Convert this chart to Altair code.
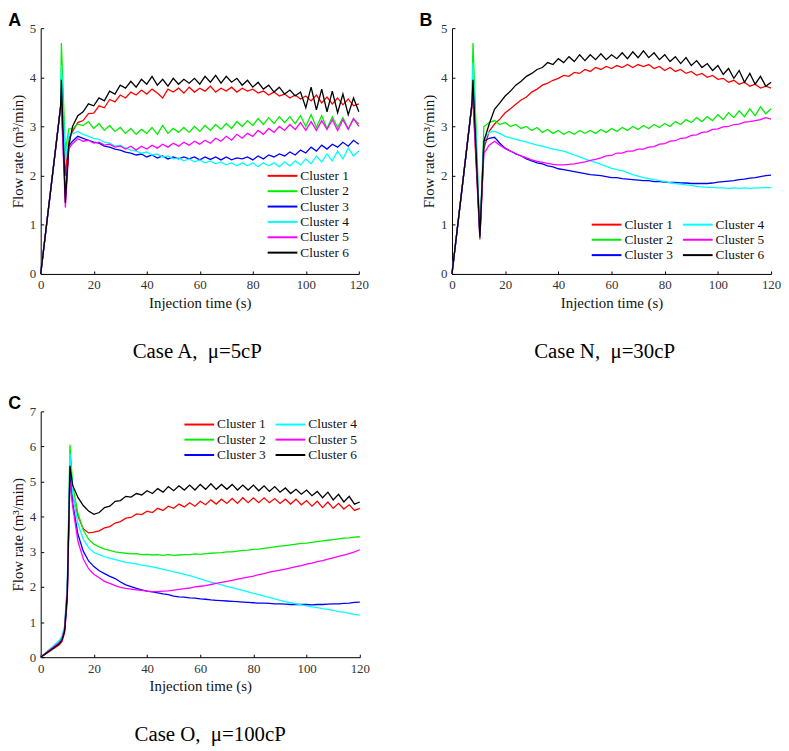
import altair as alt
import pandas as pd

CLUSTERS = ["Cluster 1", "Cluster 2", "Cluster 3", "Cluster 4", "Cluster 5", "Cluster 6"]
COLORS = ["#ff0000", "#00ee00", "#0000ff", "#00ffff", "#ff00ff", "#000000"]
XTICKS = [0, 20, 40, 60, 80, 100, 120]
YTICKS_AB = [0, 1, 2, 3, 4, 5]
YTICKS_C = [0, 1, 2, 3, 4, 5, 6, 7]
GRID = list(range(12, 121, 2))  # sample times 12, 14, ..., 120 s

# ---------------- Case A (mu = 5 cP) ----------------
TIMES_A = [0, 7.5, 7.8, 9.3, 10.6] + GRID
A1 = [0, 3.4, 3.6, 2.0, 2.75,
      2.90, 3.08, 3.12, 3.26, 3.27, 3.42, 3.38, 3.55, 3.50, 3.64, 3.58,
      3.70, 3.64, 3.74, 3.66, 3.76, 3.68, 3.58, 3.76, 3.70, 3.78, 3.68,
      3.80, 3.70, 3.78, 3.72, 3.82, 3.70, 3.78, 3.72, 3.80, 3.70, 3.78,
      3.72, 3.76, 3.68, 3.72, 3.64, 3.70, 3.62, 3.66, 3.58, 3.64, 3.56,
      3.62, 3.52, 3.64, 3.48, 3.60, 3.46, 3.58, 3.44, 3.56, 3.42, 3.46]
A2 = [0, 3.4, 4.7, 2.5, 2.95,
      2.95, 3.05, 3.02, 3.10, 2.96, 3.06, 2.92, 3.02, 2.90, 2.98, 2.86,
      2.96, 2.84, 2.94, 2.86, 2.98, 2.84, 3.02, 2.86, 2.96, 2.88, 2.98,
      2.88, 3.00, 2.90, 3.02, 2.92, 3.04, 2.94, 3.06, 2.96, 3.10, 3.00,
      3.12, 3.02, 3.16, 3.04, 3.18, 3.06, 3.20, 3.08, 3.20, 3.06, 3.22,
      3.00, 3.24, 2.98, 3.22, 2.96, 3.20, 2.98, 3.18, 2.96, 3.16, 3.05]
A3 = [0, 3.4, 3.5, 1.55, 2.6,
      2.70, 2.80, 2.76, 2.72, 2.68, 2.66, 2.60, 2.58, 2.54, 2.52, 2.48,
      2.46, 2.42, 2.44, 2.38, 2.42, 2.36, 2.40, 2.34, 2.38, 2.34, 2.38,
      2.34, 2.38, 2.32, 2.38, 2.33, 2.38, 2.32, 2.38, 2.32, 2.36, 2.34,
      2.38, 2.32, 2.40, 2.34, 2.42, 2.38, 2.44, 2.40, 2.48, 2.42, 2.52,
      2.46, 2.58, 2.50, 2.62, 2.54, 2.64, 2.58, 2.68, 2.60, 2.72, 2.64]
A4 = [0, 3.4, 4.25, 2.3, 2.85,
      2.85, 2.90, 2.84, 2.80, 2.76, 2.74, 2.68, 2.66, 2.60, 2.62, 2.56,
      2.52, 2.50, 2.46, 2.48, 2.42, 2.44, 2.38, 2.40, 2.34, 2.36, 2.30,
      2.34, 2.28, 2.32, 2.26, 2.30, 2.24, 2.28, 2.22, 2.26, 2.20, 2.26,
      2.20, 2.26, 2.18, 2.26, 2.20, 2.26, 2.18, 2.28, 2.20, 2.30, 2.22,
      2.34, 2.24, 2.40, 2.28, 2.44, 2.30, 2.50, 2.34, 2.56, 2.40, 2.50]
A5 = [0, 3.4, 3.4, 1.35, 2.55,
      2.65, 2.75, 2.70, 2.72, 2.66, 2.68, 2.62, 2.64, 2.58, 2.60, 2.54,
      2.60, 2.52, 2.60, 2.54, 2.62, 2.56, 2.64, 2.58, 2.66, 2.60, 2.68,
      2.62, 2.70, 2.64, 2.72, 2.66, 2.76, 2.70, 2.80, 2.72, 2.84, 2.76,
      2.86, 2.80, 2.92, 2.84, 2.96, 2.88, 3.00, 2.92, 3.04, 2.94, 3.08,
      2.92, 3.10, 2.92, 3.12, 2.94, 3.14, 2.92, 3.14, 2.94, 3.16, 3.00]
A6 = [0, 3.4, 3.95, 1.45, 2.6,
      3.00, 3.22, 3.30, 3.46, 3.42, 3.58, 3.52, 3.72, 3.66, 3.84, 3.78,
      3.92, 3.80, 3.96, 3.86, 4.02, 3.84, 3.96, 3.82, 3.98, 3.86, 3.96,
      3.88, 3.98, 3.86, 4.02, 3.90, 4.04, 3.88, 4.02, 3.90, 3.98, 3.84,
      3.94, 3.80, 3.90, 3.76, 3.84, 3.70, 3.80, 3.66, 3.74, 3.62, 3.70,
      3.38, 3.80, 3.34, 3.76, 3.30, 3.72, 3.28, 3.66, 3.24, 3.58, 3.30]

# ---------------- Case N (mu = 30 cP) ----------------
TIMES_B = [0, 7.5, 7.9, 10.5] + GRID
B1 = [0, 3.45, 3.5, 0.70,
      2.55, 2.90, 3.05, 3.15, 3.28, 3.36, 3.45, 3.54, 3.60, 3.70, 3.76,
      3.84, 3.88, 3.94, 3.98, 4.04, 4.02, 4.10, 4.08, 4.16, 4.12, 4.20,
      4.16, 4.22, 4.18, 4.24, 4.20, 4.26, 4.20, 4.26, 4.22, 4.26, 4.18,
      4.22, 4.14, 4.20, 4.12, 4.16, 4.08, 4.12, 4.04, 4.08, 4.00, 4.04,
      3.96, 3.98, 3.90, 3.94, 3.86, 3.90, 3.82, 3.86, 3.78, 3.82, 3.78]
B2 = [0, 3.45, 4.7, 0.80,
      3.00, 3.08, 3.12, 3.04, 3.08, 3.00, 3.04, 2.96, 3.00, 2.92, 2.98,
      2.88, 2.94, 2.86, 2.92, 2.84, 2.90, 2.84, 2.92, 2.86, 2.92, 2.86,
      2.94, 2.88, 2.96, 2.90, 2.98, 2.92, 3.00, 2.94, 3.02, 2.96, 3.04,
      2.98, 3.06, 3.00, 3.10, 3.04, 3.14, 3.08, 3.18, 3.10, 3.20, 3.12,
      3.24, 3.14, 3.28, 3.18, 3.32, 3.20, 3.36, 3.22, 3.40, 3.26, 3.36]
B3 = [0, 3.45, 3.8, 0.75,
      2.70, 2.76, 2.78, 2.66, 2.56, 2.50, 2.44, 2.40, 2.34, 2.30, 2.26,
      2.24, 2.20, 2.18, 2.14, 2.12, 2.10, 2.08, 2.06, 2.04, 2.02, 2.01,
      2.00, 1.98, 1.96, 1.96, 1.94, 1.93, 1.92, 1.91, 1.90, 1.90, 1.88,
      1.88, 1.87, 1.86, 1.86, 1.85, 1.85, 1.84, 1.84, 1.84, 1.84, 1.85,
      1.87, 1.88, 1.89, 1.90, 1.92, 1.93, 1.95, 1.96, 1.98, 2.00, 2.01]
B4 = [0, 3.45, 4.3, 0.75,
      2.75, 2.88, 2.90, 2.86, 2.80, 2.77, 2.74, 2.71, 2.68, 2.65, 2.62,
      2.60, 2.57, 2.54, 2.52, 2.50, 2.46, 2.42, 2.38, 2.34, 2.30, 2.27,
      2.23, 2.19, 2.15, 2.12, 2.10, 2.06, 2.02, 1.99, 1.96, 1.94, 1.92,
      1.90, 1.88, 1.86, 1.84, 1.83, 1.81, 1.80, 1.78, 1.77, 1.76, 1.76,
      1.75, 1.75, 1.74, 1.75, 1.74, 1.75, 1.74, 1.75, 1.75, 1.76, 1.75]
B5 = [0, 3.45, 3.6, 0.80,
      2.45, 2.62, 2.70, 2.62, 2.55, 2.50, 2.45, 2.40, 2.36, 2.32, 2.29,
      2.27, 2.25, 2.23, 2.22, 2.22, 2.23, 2.24, 2.26, 2.28, 2.31, 2.33,
      2.36, 2.40, 2.41, 2.46, 2.46, 2.50, 2.50, 2.54, 2.54, 2.58, 2.59,
      2.64, 2.65, 2.70, 2.71, 2.76, 2.77, 2.82, 2.83, 2.88, 2.89, 2.94,
      2.95, 2.99, 3.00, 3.04, 3.05, 3.09, 3.10, 3.12, 3.14, 3.18, 3.15]
B6 = [0, 3.45, 3.95, 0.75,
      2.70, 3.05, 3.35, 3.48, 3.62, 3.72, 3.84, 3.92, 4.02, 4.08, 4.16,
      4.20, 4.30, 4.26, 4.38, 4.30, 4.42, 4.32, 4.46, 4.34, 4.46, 4.36,
      4.48, 4.36, 4.46, 4.38, 4.50, 4.38, 4.52, 4.40, 4.54, 4.40, 4.50,
      4.36, 4.46, 4.32, 4.42, 4.28, 4.40, 4.24, 4.34, 4.20, 4.28, 4.14,
      4.24, 4.06, 4.18, 3.98, 4.14, 3.90, 4.08, 3.86, 4.02, 3.82, 3.90]

# ---------------- Case O (mu = 100 cP) ----------------
TIMES_C = [0, 3, 7, 8, 9, 10, 11] + GRID
C1 = [0, 0.15, 0.35, 0.45, 0.70, 1.60, 5.20,
      4.60, 4.02, 3.66, 3.54, 3.56, 3.60, 3.68, 3.72, 3.82, 3.86, 3.96,
      3.98, 4.08, 4.06, 4.16, 4.12, 4.24, 4.18, 4.30, 4.24, 4.36, 4.28,
      4.40, 4.30, 4.44, 4.34, 4.48, 4.36, 4.50, 4.38, 4.52, 4.38, 4.54,
      4.40, 4.54, 4.40, 4.54, 4.40, 4.52, 4.38, 4.50, 4.36, 4.50, 4.34,
      4.46, 4.30, 4.44, 4.26, 4.42, 4.24, 4.38, 4.22, 4.34, 4.18, 4.24]
C2 = [0, 0.20, 0.45, 0.55, 0.85, 2.00, 6.05,
      4.90, 4.10, 3.62, 3.36, 3.22, 3.14, 3.08, 3.04, 3.00, 2.98, 2.96,
      2.94, 2.95, 2.92, 2.93, 2.91, 2.92, 2.90, 2.92, 2.90, 2.91, 2.92,
      2.92, 2.94, 2.93, 2.95, 2.96, 2.97, 2.98, 3.00, 3.00, 3.02, 3.04,
      3.05, 3.07, 3.08, 3.10, 3.12, 3.14, 3.16, 3.18, 3.20, 3.22, 3.24,
      3.25, 3.27, 3.29, 3.31, 3.33, 3.35, 3.37, 3.39, 3.40, 3.42, 3.43]
C3 = [0, 0.18, 0.40, 0.50, 0.80, 1.90, 5.30,
      4.40, 3.50, 3.02, 2.74, 2.58, 2.46, 2.38, 2.30, 2.24, 2.14, 2.06,
      2.01, 1.96, 1.92, 1.88, 1.86, 1.83, 1.80, 1.78, 1.74, 1.72, 1.71,
      1.69, 1.68, 1.66, 1.65, 1.63, 1.62, 1.61, 1.60, 1.59, 1.58, 1.57,
      1.56, 1.55, 1.54, 1.54, 1.53, 1.52, 1.52, 1.51, 1.50, 1.50, 1.50,
      1.50, 1.49, 1.50, 1.50, 1.51, 1.52, 1.52, 1.53, 1.54, 1.56, 1.57]
C4 = [0, 0.20, 0.48, 0.60, 0.90, 2.10, 5.80,
      4.70, 3.80, 3.36, 3.12, 2.98, 2.92, 2.86, 2.82, 2.78, 2.74, 2.70,
      2.68, 2.66, 2.62, 2.60, 2.57, 2.54, 2.50, 2.47, 2.43, 2.40, 2.36,
      2.32, 2.28, 2.23, 2.18, 2.14, 2.10, 2.06, 2.02, 1.98, 1.94, 1.90,
      1.86, 1.82, 1.78, 1.74, 1.70, 1.66, 1.62, 1.58, 1.55, 1.52, 1.49,
      1.46, 1.43, 1.41, 1.38, 1.36, 1.33, 1.30, 1.28, 1.25, 1.22, 1.20]
C5 = [0, 0.18, 0.42, 0.52, 0.82, 1.90, 5.00,
      4.30, 3.30, 2.80, 2.52, 2.36, 2.26, 2.16, 2.10, 2.04, 1.99, 1.96,
      1.94, 1.92, 1.90, 1.88, 1.87, 1.87, 1.88, 1.89, 1.91, 1.93, 1.95,
      1.97, 2.00, 2.02, 2.04, 2.07, 2.10, 2.13, 2.16, 2.19, 2.22, 2.25,
      2.28, 2.31, 2.35, 2.38, 2.42, 2.45, 2.48, 2.51, 2.54, 2.58, 2.61,
      2.65, 2.68, 2.72, 2.75, 2.79, 2.83, 2.87, 2.91, 2.95, 3.00, 3.06]
C6 = [0, 0.16, 0.38, 0.48, 0.75, 1.80, 5.45,
      4.90, 4.55, 4.32, 4.16, 4.07, 4.12, 4.26, 4.30, 4.44, 4.46, 4.58,
      4.56, 4.66, 4.62, 4.74, 4.66, 4.80, 4.70, 4.86, 4.74, 4.88, 4.76,
      4.90, 4.76, 4.92, 4.78, 4.94, 4.78, 4.92, 4.78, 4.92, 4.76, 4.90,
      4.76, 4.90, 4.74, 4.88, 4.72, 4.86, 4.70, 4.82, 4.66, 4.78, 4.64,
      4.76, 4.60, 4.72, 4.54, 4.70, 4.48, 4.64, 4.42, 4.58, 4.36, 4.42]

SERIF = "Liberation Serif"
SANS = "Liberation Sans"


def panel(times, series, ymax, yticks, ncol, lx, ly, label, caption, cap_x, W, H):
    rows = []
    for name, vals in zip(CLUSTERS, series):
        for t, v in zip(times, vals):
            rows.append({"t": t, "v": v, "cluster": name})
    df = pd.DataFrame(rows)

    legend = alt.Legend(
        title=None, orient="none", legendX=lx, legendY=ly, columns=ncol,
        symbolType="M-1,0H3.2857", symbolSize=196, symbolStrokeWidth=2,
        labelFont=SERIF, labelFontSize=13.5, labelColor="#111",
        labelOffset=18, rowPadding=0.5, columnPadding=5, padding=0,
        symbolOpacity=1,
    )
    lines = alt.Chart(df).mark_line(strokeWidth=1.3).encode(
        x=alt.X("t:Q", scale=alt.Scale(domain=[0, 120], nice=False, zero=False),
                axis=alt.Axis(values=XTICKS, title="Injection time (s)", ticks=False,
                              labelPadding=5, titlePadding=4, labelFlush=False,
                              grid=False)),
        y=alt.Y("v:Q", scale=alt.Scale(domain=[0, ymax], nice=False),
                axis=alt.Axis(values=yticks, title="Flow rate (m\u00b3/min)", ticks=False,
                              labelPadding=5, titlePadding=4, labelFlush=False,
                              grid=False)),
        color=alt.Color("cluster:N",
                        scale=alt.Scale(domain=CLUSTERS, range=COLORS),
                        legend=legend),
    )
    inner_ticks = alt.Chart(df).transform_aggregate(
        t="min(t)", v="min(v)"
    ).mark_point(opacity=0).encode(
        x=alt.X("t:Q", axis=alt.Axis(orient="top", offset=-H, labels=False, domain=False,
                                     ticks=True, tickSize=3, title=None, values=XTICKS,
                                     grid=False)),
        y=alt.Y("v:Q", axis=alt.Axis(orient="right", offset=-W, labels=False, domain=False,
                                     ticks=True, tickSize=3, title=None, values=yticks,
                                     grid=False)),
    )
    lab = alt.Chart(pd.DataFrame({"s": [label]})).mark_text(
        align="left", baseline="top", font=SANS, fontWeight="bold", fontSize=18,
        color="black"
    ).encode(x=alt.value(-32.7), y=alt.value(-16.3), text="s:N")
    cap = alt.Chart(pd.DataFrame({"s": [caption]})).mark_text(
        align="center", baseline="alphabetic", font=SERIF, fontSize=21, color="black"
    ).encode(x=alt.value(cap_x), y=alt.value(H + 85), text="s:N")

    return alt.layer(lines, inner_ticks, lab, cap).resolve_axis(
        x="independent", y="independent"
    ).properties(width=W, height=H)


pA = panel(TIMES_A, [A1, A2, A3, A4, A5, A6], 5, YTICKS_AB, 1, 228, 141,
           "A", "Case A,\u00a0 \u03bc=5cP", 158, 321, 248)
pB = panel(TIMES_B, [B1, B2, B3, B4, B5, B6], 5, YTICKS_AB, 2, 140, 190,
           "B", "Case N,\u00a0 \u03bc=30cP", 154, 322, 248)
pC = panel(TIMES_C, [C1, C2, C3, C4, C5, C6], 7, YTICKS_C, 2, 144, 5,
           "C", "Case O,\u00a0 \u03bc=100cP", 171, 322, 248)

chart = alt.concat(
    pA, pB, pC, columns=2, spacing={"row": 138.7, "column": 93}, bounds="flush"
).resolve_scale(color="independent").properties(padding=0).configure_view(
    stroke=None
).configure_axis(
    labelFont=SERIF, labelFontSize=13, labelColor="#333",
    titleFont=SERIF, titleFontSize=15, titleFontWeight="normal", titleColor="#111",
    domainColor="black", tickColor="black", domainWidth=1, tickWidth=1,
)

chart.save("out.html", embed_options={"renderer": "svg", "actions": False})
